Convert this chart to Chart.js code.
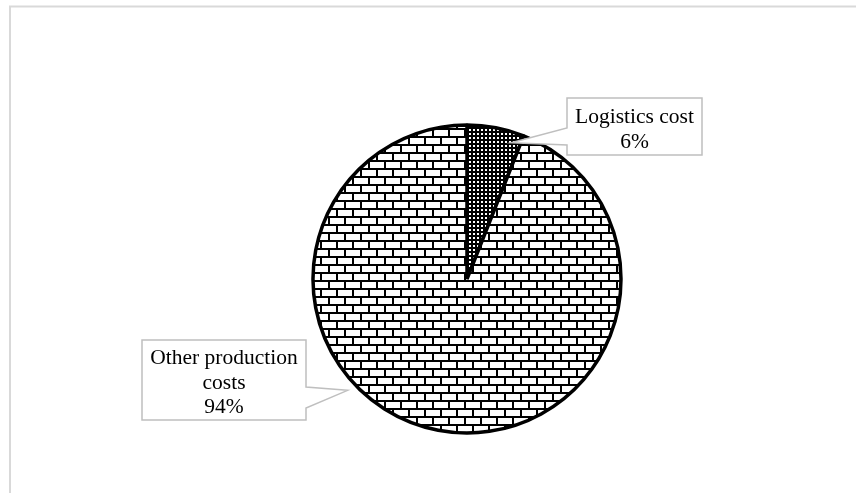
<!DOCTYPE html>
<html>
<head>
<meta charset="utf-8">
<script src="https://cdn.jsdelivr.net/npm/chart.js@4.4.1/dist/chart.umd.min.js"></script>
<style>
  html, body { margin: 0; padding: 0; background: #ffffff; }
  #wrap { width: 856px; height: 493px; position: relative; }
</style>
</head>
<body>
<div id="wrap"><canvas id="c" width="856" height="493"></canvas></div>
<script>
const categories = ['Logistics cost', 'Other production costs'];
const values = [6, 94];
const labelLines = [['Logistics cost', '6%'], ['Other production', 'costs', '94%']];

function brickPattern() {
  const c = document.createElement('canvas');
  c.width = 16; c.height = 16;
  const g = c.getContext('2d');
  g.fillStyle = '#ffffff'; g.fillRect(0, 0, 16, 16);
  g.fillStyle = '#000000';
  g.fillRect(0, 0, 16, 2);
  g.fillRect(0, 8, 16, 2);
  g.fillRect(0, 0, 2, 8);
  g.fillRect(8, 8, 2, 8);
  return g.createPattern(c, 'repeat');
}
function dotPattern() {
  const c = document.createElement('canvas');
  c.width = 4; c.height = 4;
  const g = c.getContext('2d');
  g.fillStyle = '#000000'; g.fillRect(0, 0, 4, 4);
  g.fillStyle = '#ffffff'; g.fillRect(1, 1, 2, 2);
  return g.createPattern(c, 'repeat');
}

// callout geometry relative to pie centre (layout only)
const callouts = [
  { box: [100, -181, 235, -124], side: 'left', wedge: [-151, -134], tipAngle: 18, tipR: 0.93, lineY: [19, 44] },
  { box: [-325, 61, -161, 141], side: 'right', wedge: [108, 129], tipAngle: 227, tipR: 1.06, lineY: [18, 43, 67] }
];

const framePlugin = {
  id: 'frame',
  beforeDraw(chart) {
    const ctx = chart.ctx;
    ctx.save();
    ctx.fillStyle = '#ffffff';
    ctx.fillRect(0, 0, chart.width, chart.height);
    ctx.strokeStyle = '#d9d9d9';
    ctx.lineWidth = 2;
    ctx.strokeRect(10, 6.5, chart.width + 20, chart.height + 20);
    ctx.restore();
  }
};

const calloutPlugin = {
  id: 'callouts',
  afterDatasetsDraw(chart) {
    const ctx = chart.ctx;
    const meta = chart.getDatasetMeta(0);
    const arc0 = meta.data[0];
    const cx = arc0.x, cy = arc0.y, R = arc0.outerRadius;
    ctx.save();
    callouts.forEach((co, i) => {
      const x0 = cx + co.box[0], y0 = cy + co.box[1], x1 = cx + co.box[2], y1 = cy + co.box[3];
      const a = co.tipAngle * Math.PI / 180;
      const tx = cx + Math.sin(a) * R * co.tipR, ty = cy - Math.cos(a) * R * co.tipR;
      ctx.beginPath();
      if (co.side === 'left') {
        ctx.moveTo(x0, y0); ctx.lineTo(x1, y0); ctx.lineTo(x1, y1); ctx.lineTo(x0, y1);
        ctx.lineTo(x0, cy + co.wedge[1]); ctx.lineTo(tx, ty); ctx.lineTo(x0, cy + co.wedge[0]);
        ctx.closePath();
      } else {
        ctx.moveTo(x0, y0); ctx.lineTo(x1, y0); ctx.lineTo(x1, cy + co.wedge[0]);
        ctx.lineTo(tx, ty); ctx.lineTo(x1, cy + co.wedge[1]);
        ctx.lineTo(x1, y1); ctx.lineTo(x0, y1); ctx.closePath();
      }
      ctx.fillStyle = '#ffffff';
      ctx.fill();
      ctx.strokeStyle = '#bfbfbf';
      ctx.lineWidth = 1.5;
      ctx.stroke();
      ctx.fillStyle = '#000000';
      ctx.font = '21.5px "Liberation Serif", "Times New Roman", serif';
      ctx.textAlign = 'center';
      ctx.textBaseline = 'middle';
      const mx = (x0 + x1) / 2;
      labelLines[i].forEach((t, k) => ctx.fillText(t, mx, y0 + co.lineY[k]));
    });
    ctx.restore();
  }
};

new Chart(document.getElementById('c'), {
  type: 'pie',
  data: {
    labels: categories,
    datasets: [{
      data: values,
      backgroundColor: [dotPattern(), brickPattern()],
      borderColor: '#000000',
      borderWidth: 3.5,
      borderAlign: 'center'
    }]
  },
  options: {
    responsive: false,
    animation: false,
    radius: 154,
    layout: { padding: { left: 78, right: 0, top: 65, bottom: 0 } },
    plugins: { legend: { display: false }, tooltip: { enabled: false } }
  },
  plugins: [framePlugin, calloutPlugin]
});
</script>
</body>
</html>
